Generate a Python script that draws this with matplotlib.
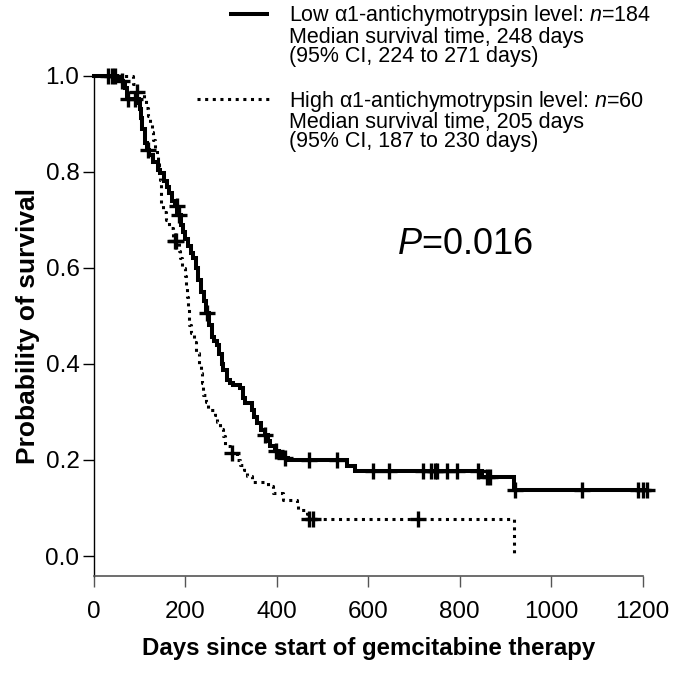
import numpy as np
import matplotlib
matplotlib.use("Agg")
import matplotlib.pyplot as plt
from matplotlib.lines import Line2D

plt.rcParams['font.family'] = ['Liberation Sans', 'DejaVu Sans']
plt.rcParams['mathtext.fontset'] = 'custom'
plt.rcParams['mathtext.rm'] = 'Liberation Sans'
plt.rcParams['mathtext.it'] = 'Liberation Sans:italic'

# Kaplan-Meier steps: (day, survival after the drop)
low_days = [0, 50, 58, 64, 68, 73, 98, 100, 102, 106, 111, 116, 120, 130, 140, 144,
            152, 159, 164, 170, 177, 182, 190, 195, 199, 206, 213, 217, 222, 228,
            234, 240, 246, 252, 257, 262, 268, 273, 279, 283, 290, 298, 305, 319,
            325, 330, 345, 350, 356, 365, 374, 380, 385, 395, 405, 418, 425, 553,
            571, 848, 918, 1210]
low_surv = [1.0, 0.995, 0.99, 0.985, 0.975, 0.952, 0.943, 0.93, 0.912, 0.89, 0.86,
            0.845, 0.835, 0.82, 0.804, 0.797, 0.78, 0.769, 0.755, 0.74, 0.728, 0.71,
            0.69, 0.675, 0.66, 0.645, 0.63, 0.62, 0.60, 0.575, 0.55, 0.53, 0.505,
            0.48, 0.457, 0.448, 0.44, 0.42, 0.40, 0.388, 0.367, 0.36, 0.355, 0.349,
            0.33, 0.318, 0.304, 0.29, 0.276, 0.262, 0.252, 0.24, 0.228, 0.218, 0.21,
            0.205, 0.20, 0.188, 0.177, 0.165, 0.138, 0.138]
low_censored = [31, 39, 46, 62, 75, 90, 118, 181, 185, 247, 374, 398, 418, 471, 531,
                610, 646, 719, 738, 746, 750, 771, 793, 840, 859, 866, 921, 1068,
                1190, 1200, 1210]

high_days = [0, 85, 93, 110, 114, 118, 122, 126, 130, 134, 138, 141, 143, 145, 147,
             150, 157, 163, 172, 185, 188, 193, 199, 202, 204, 206, 207, 208, 212,
             218, 224, 229, 233, 236, 239, 244, 250, 264, 270, 276, 283, 287, 298,
             312, 320, 327, 335, 345, 381, 392, 414, 443, 447, 465, 468, 918]
high_surv = [1.0, 0.983, 0.967, 0.95, 0.933, 0.917, 0.9, 0.883, 0.867, 0.85, 0.833,
             0.817, 0.80, 0.783, 0.733, 0.717, 0.70, 0.683, 0.655, 0.635, 0.62, 0.60,
             0.582, 0.56, 0.54, 0.52, 0.50, 0.48, 0.464, 0.445, 0.422, 0.40, 0.38,
             0.36, 0.335, 0.32, 0.304, 0.294, 0.28, 0.265, 0.249, 0.228, 0.215, 0.2,
             0.19, 0.179, 0.167, 0.155, 0.145, 0.131, 0.117, 0.106, 0.096, 0.087,
             0.077, 0.0]
high_censored = [95, 177, 180, 301, 471, 479, 709]

x_ticks = [0, 200, 400, 600, 800, 1000, 1200]
y_ticks = [0.0, 0.2, 0.4, 0.6, 0.8, 1.0]

low_text = ["Low \u03b11-antichymotrypsin level: $n$=184",
            "Median survival time, 248 days",
            "(95% CI, 224 to 271 days)"]
high_text = ["High \u03b11-antichymotrypsin level: $n$=60",
             "Median survival time, 205 days",
             "(95% CI, 187 to 230 days)"]
p_text = "$P$=0.016"


def surv_at(days, surv, t):
    # value of the step function at time t
    idx = np.searchsorted(np.array(days), t, side='right') - 1
    return np.array(surv)[idx]


W, H = 677, 687
fig = plt.figure(figsize=(W / 100, H / 100), dpi=100)
ax = fig.add_axes([94 / W, 1 - 575.7 / H, (642.7 - 94) / W, 500 / H])

ax.step(low_days, low_surv, where='post', color='black', lw=2.9,
        solid_joinstyle='miter', clip_on=False)
ax.step(high_days, high_surv, where='post', color='black', lw=2.2,
        linestyle=(0, (1.0, 1.5)), clip_on=False)
ax.plot(low_censored, surv_at(low_days, low_surv, low_censored), ls='none',
        marker='+', ms=12, mew=2.4, color='black', clip_on=False)
ax.plot(high_censored, surv_at(high_days, high_surv, high_censored), ls='none',
        marker='+', ms=12, mew=2.4, color='black', clip_on=False)

ax.set_xlim(0, 1200)
ax.set_ylim(-0.041, 1.0)
ax.set_xticks(x_ticks)
ax.set_yticks(y_ticks)
ax.set_yticklabels([f"{v:.1f}" for v in y_ticks])
ax.tick_params(axis='x', length=8, width=1, pad=10, labelsize=17.5, color='#555555')
ax.tick_params(axis='y', length=8, width=1, pad=2.5, labelsize=17.5)
ax.spines['top'].set_visible(False)
ax.spines['right'].set_visible(False)
ax.spines['bottom'].set_color('#555555')
ax.spines['bottom'].set_linewidth(1.2)
ax.spines['left'].set_linewidth(1.0)

ax.set_xlabel("Days since start of gemcitabine therapy", fontsize=17.3,
              fontweight='bold', labelpad=10)
ax.set_ylabel("Probability of survival", fontsize=19, fontweight='bold',
              labelpad=4)

# legend drawn by hand in pixel positions, one text block per group
fig.add_artist(Line2D([229 / W, 269 / W], [1 - 14 / H, 1 - 14 / H],
                      color='black', lw=2.9, solid_capstyle='butt'))
fig.add_artist(Line2D([197 / W, 272 / W], [1 - 98.7 / H, 1 - 98.7 / H],
                      color='black', lw=2.2, linestyle=(0, (1.0, 1.5))))
fig.text(289 / W, 1 - 3.5 / H, "\n".join(low_text), fontsize=15.5,
         ha='left', va='top', linespacing=0.885)
fig.text(289 / W, 1 - 89 / H, "\n".join(high_text), fontsize=15.5,
         ha='left', va='top', linespacing=0.885)

fig.text(465 / W, 1 - 245 / H, p_text, fontsize=26, ha='center', va='center')

fig.savefig("out.png", dpi=100)
